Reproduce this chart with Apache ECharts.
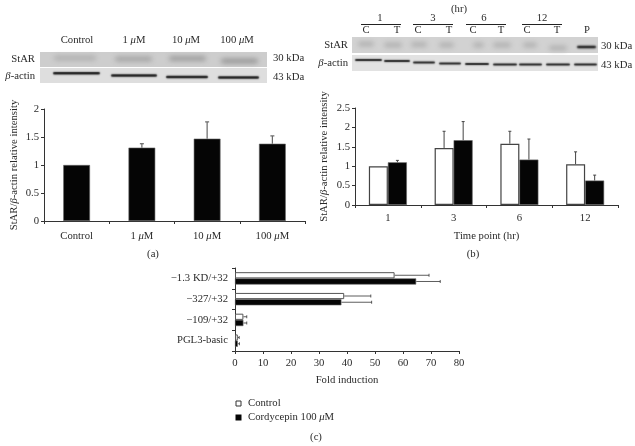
<!DOCTYPE html>
<html><head><meta charset="utf-8">
<style>html,body{margin:0;padding:0;background:#fff}#c{width:635px;height:446px}</style>
<script src="https://cdn.jsdelivr.net/npm/echarts@6/dist/echarts.min.js"></script>
</head><body><div id="c"></div>
<script>
// Panel (a)
const doseCats = ['Control', '1 {i|μ}M', '10 {i|μ}M', '100 {i|μ}M'];
const doseVals = [1, 1.31, 1.47, 1.38];
const doseErrTop = [null, 1.38, 1.77, 1.52];
// Panel (b)
const timeCats = ['1', '3', '6', '12'];
const timeControl = [1, 1.47, 1.58, 1.05];
const timeTreated = [1.1, 1.67, 1.17, 0.63];
const timeControlErrTop = [null, 1.9, 1.9, 1.37];
const timeTreatedErrTop = [1.15, 2.15, 1.7, 0.77];
// Panel (c)
const promoterCats = ['PGL3-basic', '−109/+32', '−327/+32', '−1.3 KD/+32'];
const foldControl = [1, 3, 39, 57];
const foldCordy = [1, 3, 38, 64.7];
const foldControlErr = [1.5, 4.2, 48.5, 69.3];
const foldCordyErr = [1.6, 4.2, 48.8, 73.3];

const FONT = '"Liberation Serif","DejaVu Serif",serif';
const TXT = '#2a2a2a';
const AX = '#333';
const FS = 10.7;
const rich = { i: { fontStyle: 'italic', fontFamily: FONT, fontSize: FS, color: TXT } };

function errSeries(xi, yi, name, tops, bases, offset, horizontal, capW, color, lw) {
  return {
    type: 'custom', name, xAxisIndex: xi, yAxisIndex: yi, silent: true, z: 1,
    data: tops.map((t, i) => horizontal ? [t, i, bases[i]] : [i, t, bases[i]]).filter(d => d[horizontal ? 0 : 1] !== null),
    encode: { x: 0, y: 1 },
    renderItem(params, api) {
      const style = { stroke: color, lineWidth: lw, fill: 'none' };
      if (horizontal) {
        const band = api.size([0, 1])[1];
        const a = api.coord([api.value(2), api.value(1)]);
        const b = api.coord([api.value(0), api.value(1)]);
        const y = a[1] + offset * band;
        return { type: 'group', children: [
          { type: 'line', shape: { x1: a[0], y1: y, x2: b[0], y2: y }, style },
          { type: 'line', shape: { x1: b[0], y1: y - capW, x2: b[0], y2: y + capW }, style }
        ] };
      }
      const band = api.size([1, 0])[0];
      const a = api.coord([api.value(0), api.value(2)]);
      const b = api.coord([api.value(0), api.value(1)]);
      const x = a[0] + offset * band;
      return { type: 'group', children: [
        { type: 'line', shape: { x1: x, y1: a[1], x2: x, y2: b[1] }, style },
        { type: 'line', shape: { x1: x - capW, y1: b[1], x2: x + capW, y2: b[1] }, style }
      ] };
    }
  };
}

const axisLine = { show: true, lineStyle: { color: AX, width: 1 } };
const axisTick = { show: true, length: 3, lineStyle: { color: AX, width: 1 } };
const label = { color: TXT, fontFamily: FONT, fontSize: FS };
const yName = {
  name: 'StAR/{i|β}-actin relative intensity', nameLocation: 'middle', nameRotate: 90,
  nameTextStyle: { color: TXT, fontFamily: FONT, fontSize: FS, rich }
};

const grid = [
  { left: 44, top: 109, width: 261, height: 112 },
  { left: 355, top: 108, width: 263, height: 97 },
  { left: 235, top: 268, width: 224, height: 83 }
];

const xAxis = [
  { gridIndex: 0, type: 'category', data: doseCats, axisLine, axisTick,
    axisLabel: { ...label, margin: 10, rich } },
  { gridIndex: 1, type: 'category', data: timeCats, axisLine, axisTick, axisLabel: { ...label, margin: 8 },
    name: 'Time point (hr)', nameLocation: 'middle', nameGap: 26, nameTextStyle: { color: TXT, fontFamily: FONT, fontSize: FS } },
  { gridIndex: 2, type: 'value', min: 0, max: 80, interval: 10, axisLine, axisTick, splitLine: { show: false },
    axisLabel: { ...label, margin: 7 }, name: 'Fold induction', nameLocation: 'middle', nameGap: 24,
    nameTextStyle: { color: TXT, fontFamily: FONT, fontSize: FS } }
];
const yAxis = [
  { gridIndex: 0, type: 'value', min: 0, max: 2, interval: 0.5, axisLine, axisTick, splitLine: { show: false },
    axisLabel: { ...label, margin: 5 }, ...yName, nameGap: 24 },
  { gridIndex: 1, type: 'value', min: 0, max: 2.5, interval: 0.5, axisLine, axisTick, splitLine: { show: false },
    axisLabel: { ...label, margin: 5 }, ...yName, nameGap: 25 },
  { gridIndex: 2, type: 'category', data: promoterCats, axisLine, axisTick,
    axisLabel: { ...label, margin: 7 } }
];

const black = { color: '#050505', borderColor: '#666', borderWidth: 0.6 };
const white = { color: '#fff', borderColor: '#444', borderWidth: 1.2 };
const series = [
  { type: 'bar', xAxisIndex: 0, yAxisIndex: 0, data: doseVals, barWidth: '41%', itemStyle: black, z: 2 },
  errSeries(0, 0, 'aErr', doseErrTop, doseVals, 0, false, 2, '#666', 1.2),

  { type: 'bar', xAxisIndex: 1, yAxisIndex: 1, data: timeControl, barWidth: 19, barGap: '0%', itemStyle: white, z: 2 },
  { type: 'bar', xAxisIndex: 1, yAxisIndex: 1, data: timeTreated, barWidth: 19, barGap: '0%', itemStyle: black, z: 2 },
  errSeries(1, 1, 'bErrC', timeControlErrTop, timeControl, -0.145, false, 1.5, '#444', 1),
  errSeries(1, 1, 'bErrT', timeTreatedErrTop, timeTreated, 0.145, false, 1.5, '#444', 1),

  { type: 'bar', xAxisIndex: 2, yAxisIndex: 2, data: foldControl, barWidth: 6.2, barGap: '0%', itemStyle: { color: '#fff', borderColor: '#555', borderWidth: 1 }, z: 2 },
  { type: 'bar', xAxisIndex: 2, yAxisIndex: 2, data: foldCordy, barWidth: 6.2, barGap: '0%', itemStyle: black, z: 2 },
  errSeries(2, 2, 'cErrC', foldControlErr, foldControl, -0.15, true, 1.5, '#333', 0.8),
  errSeries(2, 2, 'cErrCy', foldCordyErr, foldCordy, 0.15, true, 1.5, '#333', 0.8)
];

// Decorative blot strips and text
const g = [];
function txt(x, y, text, align) {
  g.push({ type: 'text', x, y, silent: true, z: 5, style: {
    text, x: 0, y: 0, align: align || 'center', verticalAlign: 'middle',
    fontFamily: FONT, fontSize: FS, fill: TXT, rich: { i: { fontStyle: 'italic', fontFamily: FONT, fontSize: FS, fill: TXT } }
  } });
}
function panel(x, y, w, h, fill) {
  g.push({ type: 'rect', silent: true, z: 1, shape: { x, y, width: w, height: h }, style: { fill } });
}
// A band is drawn as only the blurred shadow of a rectangle kept off the canvas.
const OFF = 2000;
function band(x1, x2, cy, h, color, blur) {
  g.push({ type: 'rect', silent: true, z: 2,
    shape: { x: x1 - OFF, y: cy - h / 2, width: x2 - x1, height: h, r: h / 2 },
    style: { fill: color, shadowBlur: blur, shadowColor: color, shadowOffsetX: OFF } });
}
// (a) blots
panel(40, 52, 227, 15, '#cdcdcd');
panel(40, 68, 227, 15, '#dedede');
[[54, 96, 58, '#adadad'], [115, 152, 59, '#a0a0a0'], [169, 206, 58.5, '#989898'], [221, 258, 61, '#929292']]
  .forEach(b => band(b[0], b[1], b[2], 4.5, b[3], 5));
[[53, 100, 73.2], [111, 157, 75.5], [166, 208, 77], [218, 259, 77.5]]
  .forEach(b => band(b[0], b[1], b[2], 2.6, '#101010', 1.5));
// (b) blots
panel(352, 37, 246, 16, '#d2d2d2');
panel(352, 55, 246, 16, '#e2e2e2');
[[358, 374, 44], [384, 402, 45], [411, 427, 44.5], [439, 454, 45], [473, 484, 45], [493, 511, 45], [523, 537, 45], [549, 567, 48]]
  .forEach(b => band(b[0], b[1], b[2], 4.5, '#aeaeae', 5));
band(577, 596, 47, 2.6, '#0c0c0c', 2);
[[355, 382, 60], [384, 410, 61], [413, 435, 62.5], [439, 461, 63.5], [465, 489, 64], [493, 517, 64.5], [519, 542, 64.5], [546, 570, 64.5], [574, 597, 64.5]]
  .forEach(b => band(b[0], b[1], b[2], 2.2, '#101010', 1.5));

// text around blots
txt(77, 40, 'Control'); txt(134, 40, '1 {i|μ}M'); txt(186, 40, '10 {i|μ}M'); txt(237, 40, '100 {i|μ}M');
txt(35, 59, 'StAR', 'right'); txt(35, 76, '{i|β}-actin', 'right');
txt(273, 58, '30 kDa', 'left'); txt(273, 77, '43 kDa', 'left');
txt(459, 9.5, '(hr)');
txt(380, 18, '1'); txt(433, 18, '3'); txt(484, 18, '6'); txt(542, 18, '12');
[[361, 401], [413, 453], [466, 506], [522, 562]].forEach(s =>
  g.push({ type: 'line', silent: true, z: 5, shape: { x1: s[0], y1: 24.5, x2: s[1], y2: 24.5 }, style: { stroke: '#222', lineWidth: 1 } }));
[[366, 'C'], [397, 'T'], [418, 'C'], [449, 'T'], [473, 'C'], [501, 'T'], [527, 'C'], [557, 'T'], [587, 'P']]
  .forEach(t => txt(t[0], 30, t[1]));
txt(348, 45, 'StAR', 'right'); txt(348, 63, '{i|β}-actin', 'right');
txt(601, 46, '30 kDa', 'left'); txt(601, 65, '43 kDa', 'left');

// captions
txt(153, 254, '(a)'); txt(473, 254, '(b)'); txt(316, 437, '(c)');

// legend (c)
g.push({ type: 'rect', silent: true, shape: { x: 236, y: 401, width: 5, height: 5 }, style: { fill: '#fff', stroke: '#333', lineWidth: 1 } });
g.push({ type: 'rect', silent: true, shape: { x: 235.5, y: 414.5, width: 6, height: 6 }, style: { fill: '#050505' } });
txt(248, 403, 'Control', 'left'); txt(248, 417, 'Cordycepin 100 {i|μ}M', 'left');

const chart = echarts.init(document.getElementById('c'), null, { renderer: 'canvas', devicePixelRatio: 1 });
chart.setOption({ animation: false, backgroundColor: '#fff', grid, xAxis, yAxis, series, graphic: g });
</script></body></html>
